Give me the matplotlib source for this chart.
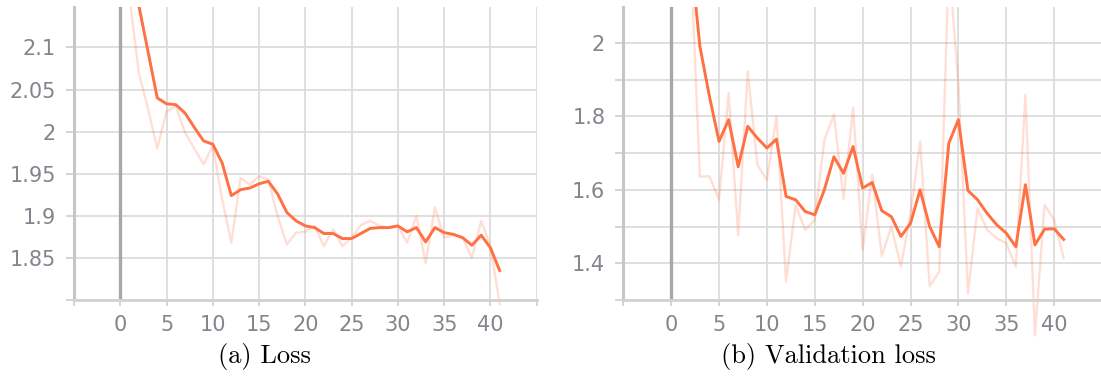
import matplotlib.pyplot as plt
from matplotlib.patches import Rectangle

# step index of each logged point
steps = list(range(42))

# training loss: raw values and tensorboard-smoothed curve
loss_raw = [2.23, 2.16, 2.07, 2.027, 1.980, 2.024, 2.030, 1.999, 1.980, 1.961,
            1.983, 1.920, 1.868, 1.945, 1.937, 1.947, 1.943, 1.900, 1.866, 1.880,
            1.881, 1.888, 1.864, 1.884, 1.864, 1.874, 1.889, 1.894, 1.888, 1.886,
            1.888, 1.868, 1.900, 1.844, 1.910, 1.874, 1.877, 1.874, 1.850, 1.894,
            1.864, 1.795]
loss_smooth = [2.23, 2.20, 2.15, 2.095, 2.040, 2.033, 2.032, 2.022, 2.005, 1.989,
               1.985, 1.963, 1.924, 1.931, 1.933, 1.938, 1.941, 1.926, 1.904, 1.894,
               1.888, 1.886, 1.879, 1.879, 1.873, 1.873, 1.879, 1.885, 1.886, 1.886,
               1.888, 1.881, 1.886, 1.869, 1.886, 1.880, 1.878, 1.874, 1.865, 1.877,
               1.862, 1.835]

# validation loss
val_raw = [2.30, 2.20, 2.26, 1.636, 1.637, 1.573, 1.864, 1.477, 1.923, 1.668,
           1.627, 1.800, 1.350, 1.559, 1.491, 1.518, 1.736, 1.805, 1.575, 1.823,
           1.436, 1.641, 1.420, 1.500, 1.391, 1.536, 1.732, 1.338, 1.377, 2.220,
           1.887, 1.318, 1.550, 1.491, 1.468, 1.455, 1.391, 1.859, 1.204, 1.559,
           1.518, 1.414]
val_smooth = [2.30, 2.25, 2.25, 1.991, 1.854, 1.732, 1.791, 1.663, 1.773, 1.741,
              1.714, 1.738, 1.582, 1.573, 1.541, 1.532, 1.600, 1.690, 1.645, 1.718,
              1.605, 1.620, 1.543, 1.527, 1.473, 1.509, 1.600, 1.500, 1.445, 1.727,
              1.791, 1.598, 1.573, 1.536, 1.505, 1.482, 1.445, 1.614, 1.450, 1.493,
              1.494, 1.465]

x_ticks = [-5, 0, 5, 10, 15, 20, 25, 30, 35, 40, 45]
x_labels = ['', '0', '5', '10', '15', '20', '25', '30', '35', '40', '']
loss_yticks = [1.80, 1.85, 1.90, 1.95, 2.00, 2.05, 2.10]
loss_ylabels = ['', '1.85', '1.9', '1.95', '2', '2.05', '2.1']
val_yticks = [1.3, 1.4, 1.5, 1.6, 1.7, 1.8, 1.9, 2.0]
val_ylabels = ['', '1.4', '', '1.6', '', '1.8', '', '2']
captions = ['(a) Loss', '(b) Validation loss']

ORANGE = '#ff7043'
GRID = '#dcdcdc'
AXIS = '#c6c6c6'
TEXT = '#84848c'


def draw_panel(ax, raw, smooth, ylim, yticks, ylabels):
    ax.set_xlim(-5, 45)
    ax.set_ylim(*ylim)
    ax.set_xticks(x_ticks)
    ax.set_xticklabels(x_labels)
    ax.set_yticks(yticks)
    ax.set_yticklabels(ylabels)
    ax.grid(True, color=GRID, lw=1.3)
    ax.set_axisbelow(True)

    for side in ('top', 'right'):
        ax.spines[side].set_visible(False)
    ax.spines['left'].set_color(AXIS)
    ax.spines['left'].set_linewidth(2.2)
    ax.spines['bottom'].set_color('#d2d2d2')
    ax.spines['bottom'].set_linewidth(2.0)

    ax.tick_params(axis='y', length=6, width=1.3, color='#d2d2d2', pad=7,
                   labelsize=15, labelcolor=TEXT)
    ax.tick_params(axis='x', length=4.5, width=1.3, color='#d2d2d2', pad=6,
                   labelsize=15, labelcolor=TEXT)

    # darker line at step 0
    ax.axvline(0, color='#a8a8a8', lw=2.4, zorder=1.5)

    # tensorboard lets the curves run below the x axis, but not above the top
    clip = Rectangle((0, -0.25), 1, 1.25, transform=ax.transAxes)
    faint, = ax.plot(steps, raw, color=ORANGE, alpha=0.22, lw=1.7, zorder=2)
    main, = ax.plot(steps, smooth, color=ORANGE, lw=2.1, zorder=3)
    faint.set_clip_path(clip)
    main.set_clip_path(clip)


fig = plt.figure(figsize=(11.01, 3.80), dpi=100)

ax1 = fig.add_axes([74 / 1101, 80 / 380, 462.7 / 1101, 293 / 380])
draw_panel(ax1, loss_raw, loss_smooth, (1.80, 2.148), loss_yticks, loss_ylabels)

ax2 = fig.add_axes([623.3 / 1101, 80 / 380, 478.7 / 1101, 293 / 380])
draw_panel(ax2, val_raw, val_smooth, (1.30, 2.098), val_yticks, val_ylabels)

fig.text(264 / 1101, 1 - 357 / 380, captions[0], family='cmr10', size=19,
         ha='center', va='center')
fig.text(828 / 1101, 1 - 357 / 380, captions[1], family='cmr10', size=19,
         ha='center', va='center')

fig.savefig('out.png', dpi=100)
